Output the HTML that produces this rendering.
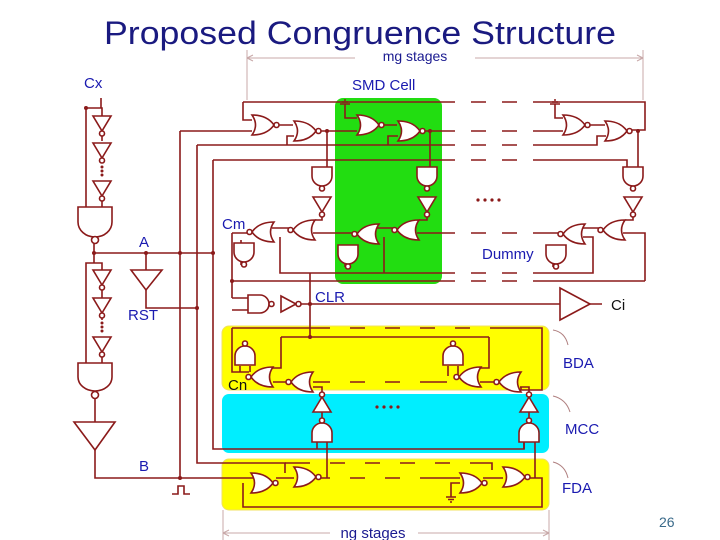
<!DOCTYPE html>
<html><head><meta charset="utf-8"><style>
html,body{margin:0;padding:0;background:#fff;width:720px;height:540px;overflow:hidden}
svg{display:block}
text{font-family:"Liberation Sans",sans-serif}
use *{vector-effect:non-scaling-stroke}
</style></head><body>
<svg width="720" height="540" viewBox="0 0 720 540" xmlns="http://www.w3.org/2000/svg">
<defs>
<g id="norR"><path vector-effect="non-scaling-stroke" d="M0,0 Q7,10 0,20 Q15,20 22,10 Q15,0 0,0Z"/><circle vector-effect="non-scaling-stroke" cx="24.5" cy="10" r="2.5"/></g>
<g id="nandD"><path vector-effect="non-scaling-stroke" d="M0,0 H20 V9 A10,10 0 0 1 0,9 Z"/><circle vector-effect="non-scaling-stroke" cx="10" cy="21.5" r="2.5"/></g>
<g id="invD"><path vector-effect="non-scaling-stroke" d="M0,0 H18 L9,15Z"/><circle vector-effect="non-scaling-stroke" cx="9" cy="17.5" r="2.5"/></g>
<g id="nandR"><path d="M0,0 H12 A9,9 0 0 1 12,18 H0Z"/><circle cx="23.5" cy="9" r="2.5"/></g>
<g id="invR"><path d="M0,0 L15,8 L0,16Z"/><circle cx="17.5" cy="8" r="2.5"/></g>
<g id="gnd"><path d="M0,0 V-6 M-5,-6 H5 M-3,-8 H3 M-1,-10 H1" fill="none"/></g>
</defs>

<rect x="335" y="98" width="107" height="186" rx="8" fill="#22dd11"/>
<rect x="222" y="326" width="327" height="64" rx="7" fill="#ffff00" stroke="#f0e060"/>
<rect x="222" y="394" width="327" height="59" rx="7" fill="#00eeff"/>
<rect x="222" y="459" width="327" height="51" rx="7" fill="#ffff00" stroke="#f0e060"/>

<text x="104" y="44" font-size="32" fill="#1a1a80" textLength="512" lengthAdjust="spacingAndGlyphs">Proposed Congruence Structure</text>

<g stroke="#c8a8a8" stroke-width="1" fill="none">
<path d="M247,50 V100 M643,50 V100 M247,58 H355 M475,58 H643 M247,58 l6,-3 M247,58 l6,3 M643,58 l-6,-3 M643,58 l-6,3"/>
<path d="M223,510 V540 M549,510 V540 M223,533 H330 M418,533 H549 M223,533 l6,-3 M223,533 l6,3 M549,533 l-6,-3 M549,533 l-6,3"/>
<path d="M568,345 Q565,332 553,330 M570,412 Q566,399 553,396 M568,478 Q565,465 553,462" stroke="#b08080"/>
</g>
<text x="415" y="61" font-size="14" fill="#1a1a90" text-anchor="middle">mg stages</text>
<text x="373" y="538" font-size="15" fill="#1a1a90" text-anchor="middle">ng stages</text>

<g stroke="#8b1a1a" stroke-width="1.6" fill="none">
<path d="M101,98 V108 H86 V207 M86,108 H102 V116 M102,133 V141 M102,160 V163 M102,198 V207"/>
<path d="M94,244 V253 H213 M94,253 V263 H86 V363 M94,263 H102 V270 M102,288 V298 M102,315 V320 M102,353 V363"/>
<path d="M146,253 V270 M146,290 V308 H197"/>
<path d="M95,398 V422 M95,450 V478 H253"/>
<path d="M172,494 H178 V486 H184 V494 H190"/>
<path d="M180,131 V478 M197,145 V463 H285 V473 M213,160 V449 H524 V442"/>
<path d="M285,463 H310 M330,463 H345 M365,463 H380 M400,463 H415 M435,463 H450 M470,463 H492 V470"/>
<path d="M243,102 H441 M243,102 V120 H252 M180,131 H252 M277,125 H293 M197,145 H441 M287,145 V136 H294 M213,160 H441"/>
<path d="M320,131 H357 M327,131 V167 M345,110 V118 H357"/>
<path d="M388,145 V136 H398 M380,125 H397 M422,131 H441 M430,131 V167"/>
<path d="M441,102 H455 M471,102 H486 M502,102 H517 M533,102 H645 V130 H630"/>
<path d="M441,131 H455 M471,131 H486 M502,131 H517 M533,131 H563"/>
<path d="M441,145 H455 M471,145 H486 M502,145 H517 M533,145 H597 V136 H606"/>
<path d="M441,160 H455 M471,160 H486 M502,160 H517 M533,160 H627 V167 M638,131 V167"/>
<path d="M555,110 V118 H563 M589,125 H605"/>
<path d="M322,214 V220 H315 M427,214 V220 H419 M633,214 V220 H625"/>
<path d="M272,228 H290 M313,233 H355 M377,228 H394 M417,233 H441 M441,233 H455 M471,233 H486 M502,233 H517 M533,233 H560 M583,228 H601 M623,233 H645 V281"/>
<path d="M232,233 H250 M232,233 V298 M232,298 H248 M232,310 H248 M232,328 V372 H249"/>
<path d="M280,237 V273 H441 M384,237 V273 M441,273 H455 M471,273 H486 M502,273 H517 M533,273 H593 V237 H583"/>
<path d="M232,281 H441 M441,281 H455 M471,281 H486 M502,281 H517 M533,281 H645"/>
<path d="M241,265 V240 M345,267 V245 M553,267 V245"/>
<path d="M300,304 H560 M590,304 H602 M310,273 V337"/>
<path d="M232,328 H330 M350,328 H365 M385,328 H400 M420,328 H435 M455,328 H470 M490,328 H542 V390 H521 V387"/>
<path d="M281,337 H489 M281,337 V368 H271 M489,337 V368 H480"/>
<path d="M240,366 V372 M250,366 V372 M448,366 V376 M458,366 V376"/>
<path d="M273,382 H289 M313,382 H330 M350,382 H365 M385,382 H400 M420,382 H447 M480,382 H496"/>
<path d="M313,387 H322 V395 M520,387 H529 V395"/>
<path d="M322,412 V418 M529,412 V418 M317,442 V449 M327,442 V478 M524,442 V449 M535,442 V478"/>
<path d="M243,483 V507 H542 V478 H526 M276,478 H294 M316,478 H330 M350,478 H365 M385,478 H400 M420,478 H460 M483,478 H503"/>
<path d="M451,497 V483 H460 M446,497 H456 M448,499.5 H454 M450,502 H452"/>
</g>

<g stroke="#8b1a1a" stroke-width="1.6" fill="#fff">
<use href="#invD" transform="translate(93,116)"/>
<use href="#invD" transform="translate(93,143)"/>
<use href="#invD" transform="translate(93,181)"/>
<use href="#invD" transform="translate(93,270)"/>
<use href="#invD" transform="translate(93,298)"/>
<use href="#invD" transform="translate(93,337)"/>
<path d="M78,207 H112 V222 A17,15 0 0 1 78,222 Z"/><circle cx="95" cy="240" r="3.5"/>
<path d="M78,363 H112 V377 A17,14 0 0 1 78,377 Z"/><circle cx="95" cy="395" r="3.5"/>
<path d="M74,422 H115 L95,450Z"/>
<path d="M131,270 H162 L146,290Z"/>
<path d="M560,288 L590,304 L560,320Z"/>
<use href="#norR" transform="translate(252,115)"/>
<use href="#norR" transform="translate(294,121)"/>
<use href="#norR" transform="translate(357,115)"/>
<use href="#norR" transform="translate(398,121)"/>
<use href="#norR" transform="translate(563,115)"/>
<use href="#norR" transform="translate(605,121)"/>
<use href="#nandD" transform="translate(312,167)"/>
<use href="#nandD" transform="translate(417,167)"/>
<use href="#nandD" transform="translate(623,167)"/>
<use href="#invD" transform="translate(313,197)"/>
<use href="#invD" transform="translate(418,197)"/>
<use href="#invD" transform="translate(624,197)"/>
<use href="#norR" transform="translate(315,220) scale(-1,1)"/>
<use href="#norR" transform="translate(274,222) scale(-1,1)"/>
<use href="#norR" transform="translate(419,220) scale(-1,1)"/>
<use href="#norR" transform="translate(379,224) scale(-1,1)"/>
<use href="#norR" transform="translate(625,220) scale(-1,1)"/>
<use href="#norR" transform="translate(585,224) scale(-1,1)"/>
<use href="#nandD" transform="translate(234,243)"/>
<use href="#nandD" transform="translate(338,245)"/>
<use href="#nandD" transform="translate(546,245)"/>
<use href="#gnd" transform="translate(345,110)"/>
<use href="#gnd" transform="translate(555,110)"/>
<use href="#nandR" transform="translate(248,295)"/>
<use href="#invR" transform="translate(281,296)"/>
<use href="#nandD" transform="translate(235,365) scale(1,-1)"/>
<use href="#nandD" transform="translate(443,365) scale(1,-1)"/>
<use href="#norR" transform="translate(273,367) scale(-1,1)"/>
<use href="#norR" transform="translate(313,372) scale(-1,1)"/>
<use href="#norR" transform="translate(481,367) scale(-1,1)"/>
<use href="#norR" transform="translate(521,372) scale(-1,1)"/>
<use href="#invD" transform="translate(313,412) scale(1,-1)"/>
<use href="#invD" transform="translate(520,412) scale(1,-1)"/>
<use href="#nandD" transform="translate(312,442) scale(1,-1)"/>
<use href="#nandD" transform="translate(519,442) scale(1,-1)"/>
<use href="#norR" transform="translate(251,473)"/>
<use href="#norR" transform="translate(294,467)"/>
<use href="#norR" transform="translate(460,473)"/>
<use href="#norR" transform="translate(503,467)"/>
</g>

<g fill="#8b1a1a">
<circle cx="102" cy="167" r="1.5"/><circle cx="102" cy="171" r="1.5"/><circle cx="102" cy="175" r="1.5"/>
<circle cx="102" cy="323" r="1.5"/><circle cx="102" cy="327" r="1.5"/><circle cx="102" cy="331" r="1.5"/>
<circle cx="478" cy="200" r="1.6"/><circle cx="485" cy="200" r="1.6"/><circle cx="492" cy="200" r="1.6"/><circle cx="499" cy="200" r="1.6"/>
<circle cx="377" cy="407" r="1.6"/><circle cx="384" cy="407" r="1.6"/><circle cx="391" cy="407" r="1.6"/><circle cx="398" cy="407" r="1.6"/>
<circle cx="94" cy="253" r="2"/><circle cx="146" cy="253" r="2"/><circle cx="180" cy="253" r="2"/><circle cx="213" cy="253" r="2"/>
<circle cx="197" cy="308" r="2"/><circle cx="180" cy="478" r="2"/><circle cx="86" cy="108" r="2"/>
<circle cx="327" cy="131" r="2"/><circle cx="430" cy="131" r="2"/><circle cx="638" cy="131" r="2"/>
<circle cx="310" cy="304" r="2"/><circle cx="310" cy="337" r="2"/><circle cx="232" cy="281" r="2"/>
</g>

<g fill="#1a1ab0" font-size="15">
<text x="84" y="88">Cx</text>
<text x="139" y="247">A</text>
<text x="128" y="320">RST</text>
<text x="139" y="471">B</text>
<text x="222" y="229">Cm</text>
<text x="315" y="302">CLR</text>
<text x="352" y="90">SMD Cell</text>
<text x="482" y="259">Dummy</text>
<text x="563" y="368">BDA</text>
<text x="565" y="434">MCC</text>
<text x="562" y="493">FDA</text>
</g>
<text x="228" y="390" font-size="15" fill="#111">Cn</text>
<text x="611" y="310" font-size="15" fill="#111">Ci</text>
<text x="659" y="527" font-size="14" fill="#3a6a8a">26</text>
</svg>
</body></html>
